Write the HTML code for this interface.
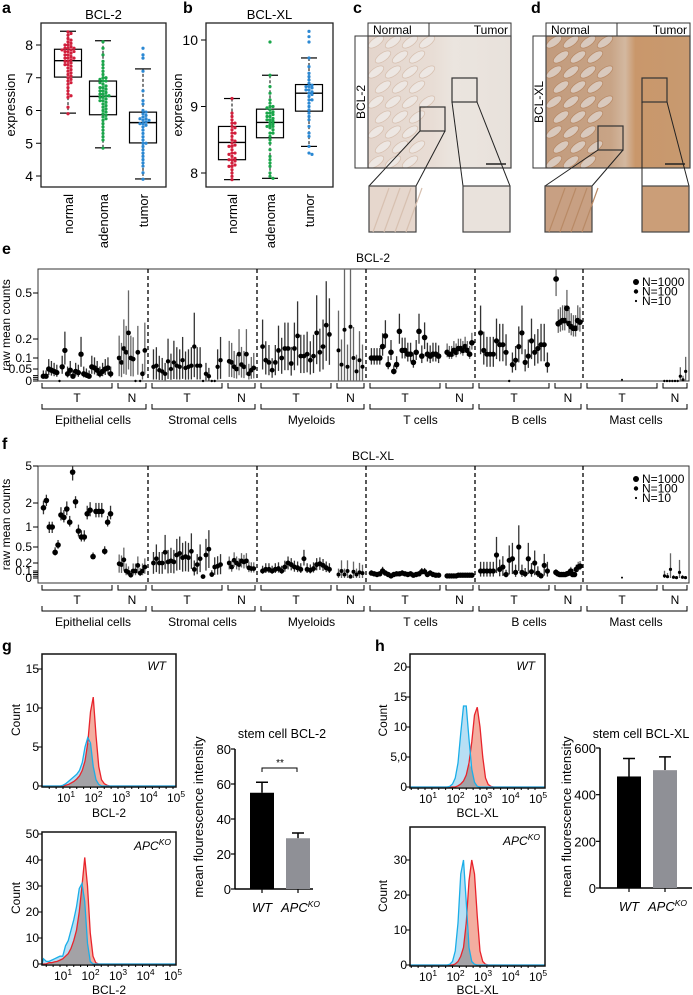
<!DOCTYPE html>
<html><head><meta charset="utf-8"><title>BCL-2 / BCL-XL figure</title>
<style>
html,body{margin:0;padding:0;background:#fff;}
svg{display:block;font-family:"Liberation Sans",Arial,sans-serif;}
</style></head>
<body>
<svg id="fig" width="693" height="995" viewBox="0 0 693 995" xmlns="http://www.w3.org/2000/svg">
<defs>
<clipPath id="clipC"><rect x="368" y="36" width="143" height="132"/></clipPath>
<clipPath id="clipD"><rect x="546" y="36" width="144" height="132"/></clipPath>
<clipPath id="clipE"><rect x="38" y="269" width="651" height="114"/></clipPath>
<clipPath id="clipF"><rect x="38" y="466" width="651" height="119"/></clipPath>
<linearGradient id="gradC" x1="0" y1="0" x2="1" y2="0"><stop offset="0" stop-color="#e4d5cc"/><stop offset="0.45" stop-color="#e8ddd5"/><stop offset="0.6" stop-color="#ebe5df"/><stop offset="1" stop-color="#e8e1db"/></linearGradient>
<linearGradient id="gradD" x1="0" y1="0" x2="1" y2="0"><stop offset="0" stop-color="#c29b7d"/><stop offset="0.45" stop-color="#c8a486"/><stop offset="0.55" stop-color="#d3b8a0"/><stop offset="0.62" stop-color="#c9976b"/><stop offset="1" stop-color="#c89a70"/></linearGradient>
</defs>
<text x="2" y="13" font-size="16" font-weight="bold">a</text>
<text x="183" y="13" font-size="16" font-weight="bold">b</text>
<text x="353" y="13" font-size="16" font-weight="bold">c</text>
<text x="531" y="13" font-size="16" font-weight="bold">d</text>
<text x="2" y="254" font-size="16" font-weight="bold">e</text>
<text x="2" y="449" font-size="16" font-weight="bold">f</text>
<text x="2" y="651" font-size="16" font-weight="bold">g</text>
<text x="375" y="651" font-size="16" font-weight="bold">h</text>
</svg>
<script>
// ---------- data: panels a/b ----------
const aNormal=[8.4,8.35,8.3,8.2,8.15,8.1,8.05,8.0,7.95,7.9,7.9,7.85,7.85,7.8,7.8,7.75,7.7,7.7,7.65,7.6,7.6,7.55,7.5,7.5,7.45,7.4,7.35,7.3,7.25,7.2,7.15,7.1,7.05,7.0,6.95,6.9,6.85,6.8,6.7,6.6,6.5,6.45,6.4,6.1,5.9,7.8,7.6,7.4,7.9,8.0];
const aAdenoma=[8.1,7.9,7.7,7.5,7.4,7.3,7.2,7.1,7.0,6.95,6.9,6.85,6.8,6.75,6.7,6.65,6.6,6.55,6.5,6.5,6.45,6.45,6.4,6.4,6.35,6.3,6.25,6.2,6.15,6.1,6.05,6.0,5.95,5.9,5.85,5.8,5.7,5.6,5.5,5.4,5.3,5.2,5.1,4.85,6.6,6.3,6.7,7.0,5.75,6.9];
const aTumor=[7.9,7.7,7.6,7.2,6.6,6.3,6.2,6.0,5.95,5.9,5.85,5.8,5.75,5.7,5.7,5.65,5.6,5.55,5.5,5.4,5.3,5.2,5.1,5.0,4.9,4.8,4.6,4.5,4.4,4.3,4.1,3.9,5.75,5.6,5.0,4.7];
const aBoxStats=[[5.92,7.02,7.52,7.87,8.42],[4.86,5.87,6.43,6.9,8.13],[3.91,5.01,5.63,5.95,7.27]];
const bNormal=[9.12,8.9,8.85,8.8,8.75,8.7,8.68,8.65,8.6,8.55,8.5,8.48,8.45,8.42,8.4,8.35,8.3,8.28,8.25,8.22,8.2,8.18,8.15,8.12,8.1,8.05,8.0,7.95,7.9,8.3,8.2,8.1,8.6,8.75,8.4];
const bAdenoma=[9.97,9.47,9.3,9.2,9.1,9.05,9.0,8.98,8.95,8.92,8.9,8.88,8.85,8.82,8.8,8.78,8.76,8.74,8.72,8.7,8.68,8.65,8.6,8.55,8.5,8.45,8.35,8.25,8.2,8.15,8.1,8.0,7.95,7.92,8.9,8.8,8.7,9.0,8.85,8.6];
const bTumor=[10.13,10.05,9.97,9.73,9.6,9.5,9.45,9.4,9.35,9.32,9.3,9.28,9.25,9.22,9.2,9.18,9.15,9.1,9.05,9.0,8.95,8.9,8.85,8.8,8.7,8.6,8.55,8.4,8.3,8.28,9.25,9.3,9.1];
const bBoxStats=[[7.9,8.2,8.46,8.7,9.12],[7.92,8.53,8.76,8.96,9.47],[8.4,8.93,9.2,9.33,9.73]];
const abCategories=['normal','adenoma','tumor'];
const aTicks=[4,5,6,7,8];
const bTicks=[8,9,10];

// ---------- data: panels e/f ----------
const cellGroups=['Epithelial cells','Stromal cells','Myeloids','T cells','B cells','Mast cells'];
const subLabels=['T','N'];
const eValues=[
[0.02,0.02,0.05,0.045,0.04,0.035,0,0.06,0.14,0.03,0.045,0.02,0.04,0.035,0.12,0.03,0.025,0.02,0.06,0.055,0.045,0.03,0.04,0.05,0.055,0.03],
[0.1,0.08,0.15,0.13,0.24,0.1,0.095,0,0.13,0,0.03,0.14],
[0.06,0.065,0.045,0.04,0.03,0.085,0.05,0.08,0.065,0.06,0.09,0.055,0.06,0.065,0.16,0.065,0.065,0,0.03,0.02,0,0,0.06,0.09],
[0.085,0.08,0.06,0.05,0.12,0.07,0.06,0.12,0.03,0.045,0.055],
[0.16,0.09,0.08,0.045,0.08,0.14,0.1,0.15,0.15,0.075,0.15,0.22,0.11,0.11,0.12,0.09,0.11,0.24,0.13,0.16,0.29,0.23],
[0.14,0.07,0.26,0.06,0.28,0.1,0.04,0.09,0.06],
[0.1,0.1,0.1,0.1,0.16,0.22,0.07,0.13,0.04,0.07,0.25,0.14,0.14,0.12,0.12,0.08,0.13,0.25,0.11,0.21,0.12,0.11,0.12,0.12,0.11],
[0.13,0.12,0.12,0.14,0.13,0.15,0.15,0.14,0.16,0.14,0.12,0.18],
[0.24,0.14,0.12,0.12,0.12,0.19,0.17,0.17,0.13,0,0.07,0.09,0.16,0.24,0.08,0.11,0.19,0.13,0.15,0.17,0.17,0.07],
[0.6,0.3,0.31,0.32,0.32,0.4,0.3,0.28,0.27,0.27,0.32,0.31],
[0.005],
[0,0,0,0,0,0,0.02,0.005,0.04]
];
const eErr=[0.5,0.8,0.9,0.8,0.7,1.2,0.3,0.2,0.5,0.2,0,1.0];
const eSize=[2.7,2.4,2.2,2.4,2.4,2.0,2.8,2.8,2.6,2.9,1,1.6];
const eTickVals=[0,0.05,0.1,0.2,0.5];
const eTickLabels=['0','0.05','0.1','0.2','0.5'];
const fValues=[
[1.8,2.2,1.0,1.0,0.4,0.55,1.5,1.4,1.75,1.2,4.5,2.1,0.9,0.75,0.75,1.55,1.7,0.32,1.65,1.65,1.65,0.42,1.2,1.55],
[0.19,0.18,0.26,0.1,0.08,0.04,0.1,0.1,0.17,0.07,0.1,0.15],
[0.2,0.28,0.2,0.2,0.4,0.22,0.24,0.22,0.35,0.38,0.3,0.32,0.3,0.42,0.12,0.18,0.28,0.02,0.35,0.46,0.05,0.15,0.16,0.18],
[0.2,0.15,0.25,0.2,0.18,0.24,0.22,0.24,0.14,0.13,0.13],
[0.1,0.12,0.12,0.1,0.12,0.13,0.1,0.15,0.2,0.18,0.15,0.14,0.12,0.28,0.12,0.11,0.13,0.18,0.19,0.17,0.14,0.12],
[0.05,0.1,0.05,0.1,0.02,0.09,0.05,0.08,0.07],
[0.07,0.06,0.05,0.06,0.1,0.07,0.05,0.03,0.05,0.06,0.06,0.07,0.06,0.05,0.06,0.04,0.05,0.06,0.09,0.09,0.05,0.07,0.05,0.04,0.04],
[0.03,0.03,0.03,0.03,0.03,0.04,0.04,0.04,0.04,0.04,0.04,0.04],
[0.1,0.1,0.1,0.1,0.1,0.35,0.12,0.15,0.05,0.25,0.28,0.08,0.5,0.08,0.06,0.28,0.09,0.2,0.07,0.03,0.17,0.1],
[0.08,0.06,0.05,0.05,0.05,0.05,0.06,0.07,0.1,0.05,0.05,0.12,0.15,0.16],
[0.005],
[0.03,0.02,0.12,0.01,0.005,0.08,0.01,0.005]
];
const fErr=[0.15,0.6,0.7,0.4,0.4,1.0,0.3,0.1,0.8,0.3,0,1.5];
const fSize=[2.8,2.4,2.4,2.4,2.5,2.0,2.7,2.7,2.6,2.8,1,1.6];
const fTickVals=[0,0.1,0.2,0.5,1,2,5];
const fTickLabels=['0','0.1','0.2','0.5','1','2','5'];

// ---------- data: histograms g/h ----------
const gLogs=[0.4,0.5,0.6,0.7,0.8,0.9,1.0,1.1,1.2,1.3,1.4,1.5,1.6,1.7,1.8,1.9,2.0,2.1,2.2,2.3,2.4,2.5,2.6,2.7,2.8];
const gWtRed=[0,0,0,0,0,0,0,0.1,0.2,0.4,0.6,0.9,1.3,2.0,3.2,5.5,9.5,11.4,6.5,2.5,0.8,0.3,0.1,0,0];
const gWtBlue=[0,0,0,0,0,0,0.1,0.3,0.6,0.9,1.2,1.5,2.0,3.0,5.0,6.2,5.5,2.5,0.8,0.2,0,0,0,0,0];
const gApcRed=[0,0,0.5,0.5,0.8,1,1.5,2,3,4,6,9,13,20,30,41,30,12,3,0.5,0,0,0,0,0];
const gApcBlue=[2,1,1,1.5,2,2.5,3,3,7,9,13,17,22,29,31,24,8,1,0,0,0,0,0,0,0];
const hLogs=[1.5,1.6,1.7,1.8,1.9,2.0,2.1,2.2,2.3,2.4,2.5,2.6,2.7,2.8,2.9,3.0,3.1,3.2,3.3,3.4,3.5,3.6,3.7,3.8];
const hWtBlue=[0,0,0,0,0.1,0.5,1.5,4,9,13.5,13.5,8,3,0.8,0.1,0,0,0,0,0,0,0,0,0];
const hWtRed=[0,0,0,0,0,0,0,0.2,0.5,1,2,4,7.5,12,13.3,10,5,1.5,0.4,0.1,0,0,0,0];
const hApcBlue=[0,0,0,0,0.2,1,4,12,26,30,18,5,1,0.2,0,0,0,0,0,0,0,0,0,0];
const hApcRed=[0,0,0,0,0,0,0.3,1,2.5,5,12,24,30,26,14,4,1,0.2,0,0,0,0,0,0];
const decadeTicks=[1,2,3,4,5];
const gWtYTicks=[0,5,10,15];
const gApcYTicks=[0,10,20,30,40,50];
const hWtYTicks=[0,5,10,15,20];
const hWtYLabels=['0','5,0','10','15','20'];
const hApcYTicks=[0,10,20,30];

// ---------- data: bar charts ----------
const barCategories=['WT','APC'];
const gBarMeans=[55,29];
const gBarErrs=[61,32];
const gBarTicks=[0,20,40,60,80];
const hBarMeans=[478,505];
const hBarErrs=[555,562];
const hBarTicks=[0,200,400,600];

// ---------- helpers ----------
const svg=document.getElementById('fig');
const NS='http://www.w3.org/2000/svg';
function mk(tag,attrs,parent){const e=document.createElementNS(NS,tag);for(const k in attrs)e.setAttribute(k,attrs[k]);(parent||svg).appendChild(e);return e;}
function txt(x,y,s,attrs,parent){const t=mk('text',Object.assign({x:x,y:y},attrs||{}),parent);t.textContent=s;return t;}
function sup(x,y,base,exp,attrs){const t=mk('text',Object.assign({x:x,y:y},attrs||{}));const a=document.createElementNS(NS,'tspan');a.textContent=base;t.appendChild(a);const b=document.createElementNS(NS,'tspan');b.setAttribute('dy','-5');b.setAttribute('font-size','8.5');b.textContent=exp;t.appendChild(b);return t;}
function interp(v,vs,ps){if(v<=vs[0])return ps[0];for(let i=0;i<vs.length-1;i++){if(v<=vs[i+1])return ps[i]+(v-vs[i])/(vs[i+1]-vs[i])*(ps[i+1]-ps[i]);}const n=vs.length-1;return ps[n]+(v-vs[n])/(vs[n]-vs[n-1])*(ps[n]-ps[n-1]);}

// ---------- panels a/b ----------
function boxPanel(cfg){
  const g=mk('g',{});
  
  
  const t=txt((cfg.x0+cfg.x1)/2,19,cfg.title,{'font-size':13,'text-anchor':'middle'},g);
  
  
  cfg.ticks.forEach(v=>{
    const y=cfg.Y(v);
    const l=mk('line',{x1:cfg.x0-5,x2:cfg.x0,y1:y,y2:y,stroke:'#000','stroke-width':1},g);
    
    
    const tl=txt(cfg.x0-8,y+5,String(v),{'font-size':14,'text-anchor':'end'},g);
    
    
  });
  const yl=txt(0,0,'expression',{'font-size':13,'text-anchor':'middle',transform:'translate('+cfg.ylx+',105) rotate(-90)'},g);
  
  
  cfg.groups.forEach((vals,i)=>{
    const cx=cfg.centers[i];const st=cfg.stats[i];const Y=cfg.Y;
    const w1=mk('line',{x1:cx,x2:cx,y1:Y(st[4]),y2:Y(st[3]),stroke:'#000','stroke-dasharray':'3,2'},g);
    
    
    const w2=mk('line',{x1:cx,x2:cx,y1:Y(st[1]),y2:Y(st[0]),stroke:'#000','stroke-dasharray':'3,2'},g);
    
    
    [st[0],st[4]].forEach(v=>{
      const c=mk('line',{x1:cx-8,x2:cx+8,y1:Y(v),y2:Y(v),stroke:'#000','stroke-width':1.2},g);
      
      
    });
    const r=mk('rect',{x:cx-13.5,y:Y(st[3]),width:27,height:Y(st[1])-Y(st[3]),fill:'none',stroke:'#000','stroke-width':1.2},g);
    
    
    const m=mk('line',{x1:cx-13.5,x2:cx+13.5,y1:Y(st[2]),y2:Y(st[2]),stroke:'#000','stroke-width':1.4},g);
    
    
    const placed=[];
    vals.slice().sort((a,b)=>b-a).forEach(v=>{
      const y=Y(v);let px=cx;
      const offs=[0,3,-3,6,-6,9,-9,12,-12,15,-15];
      for(const o of offs){const x=cx+o;if(!placed.some(p=>Math.abs(p[0]-x)<2.8&&Math.abs(p[1]-y)<2.6)){px=x;break;}}
      placed.push([px,y]);
      const d=mk('circle',{cx:px,cy:y,r:1.6,fill:cfg.colors[i]},g);
      
      
    });
    const xl=txt(0,0,abCategories[i],{'font-size':13,'text-anchor':'end',transform:'translate('+(cx+5)+','+(cfg.y1+7)+') rotate(-90)'},g);
    
    
  });
  const fr=mk('rect',{x:cfg.x0,y:cfg.y0,width:cfg.x1-cfg.x0,height:cfg.y1-cfg.y0,fill:'none',stroke:'#222','stroke-width':1.3},g);
  
  
}
boxPanel({name:'panel-a-bcl2-boxplot',title:'BCL-2',x0:41,x1:166,y0:23,y1:187,Y:v=>45+(8-v)*32.75,ticks:aTicks,ylx:15,centers:[68,103,143],groups:[aNormal,aAdenoma,aTumor],stats:aBoxStats,colors:['#d21f3c','#1aa64a','#2b88d3']});
boxPanel({name:'panel-b-bclxl-boxplot',title:'BCL-XL',x0:206,x1:333,y0:23,y1:187,Y:v=>40+(10-v)*66.5,ticks:bTicks,ylx:182,centers:[232,270,309],groups:[bNormal,bAdenoma,bTumor],stats:bBoxStats,colors:['#d21f3c','#1aa64a','#2b88d3']});

// ---------- panels c/d (IHC) ----------
function ihc(cfg){
  const g=mk('g',{});
  
  
  const h1=mk('rect',{x:cfg.x0,y:23,width:cfg.xm-cfg.x0,height:13,fill:'#fff',stroke:'#333','stroke-width':1},g);
  
  
  const h2=mk('rect',{x:cfg.xm,y:23,width:cfg.x1-cfg.xm,height:13,fill:'#fff',stroke:'#333','stroke-width':1},g);
  
  
  const t1=txt(cfg.x0+5,34,'Normal',{'font-size':12},g);
  
  
  const t2=txt(cfg.x1-3,34,'Tumor',{'font-size':12,'text-anchor':'end'},g);
  
  
  const s=mk('rect',{x:cfg.x0-13,y:36,width:13,height:132,fill:'#fff',stroke:'#333'},g);
  
  
  const sl=txt(0,0,cfg.stain,{'font-size':12,'text-anchor':'middle',transform:'translate('+(cfg.x0-3)+',102) rotate(-90)'},g);
  
  
  const im=mk('rect',{x:cfg.x0,y:36,width:cfg.x1-cfg.x0,height:132,fill:cfg.grad},g);
  
  
  const cg=mk('g',{'clip-path':cfg.clip},g);
  for(let r=0;r<9;r++){for(let c=0;c<4;c++){
    const x=cfg.x0+8+c*17+(r%2)*7;const y=42+r*15;
    if(x>cfg.x0+66-r*1.5)continue;
    const e=mk('ellipse',{cx:x,cy:y,rx:9,ry:4,fill:cfg.crypt,stroke:cfg.edge,'stroke-width':0.8,transform:'rotate(-35 '+x+' '+y+')'},cg);
    
    
  }}
  const sb=mk('line',{x1:cfg.x1-25,x2:cfg.x1-5,y1:164,y2:164,stroke:'#222','stroke-width':1.5},g);
  
  
  const fr=mk('rect',{x:cfg.x0,y:36,width:cfg.x1-cfg.x0,height:132,fill:'none',stroke:'#444','stroke-width':1.2},g);
  
  
  [[cfg.nb,cfg.in1],[cfg.tb,cfg.in2]].forEach((p,k)=>{
    const b=p[0],ins=p[1];
    const zr=mk('rect',{x:b[0],y:b[1],width:25,height:24,fill:'none',stroke:'#333','stroke-width':1.2},g);
    
    
    const l1=mk('line',{x1:b[0],y1:b[1]+24,x2:ins,y2:186,stroke:'#222'},g);
    
    
    const l2=mk('line',{x1:b[0]+25,y1:b[1]+24,x2:ins+47,y2:186,stroke:'#222'},g);
    
    
    const ir=mk('rect',{x:ins,y:186,width:47,height:46,fill:k?cfg.tumorIn:cfg.normIn,stroke:'#444','stroke-width':1.2},g);
    
    
    if(!k){for(let j=0;j<4;j++){
      const il=mk('line',{x1:ins+4+j*11,y1:232,x2:ins+20+j*11,y2:188,stroke:cfg.edge,'stroke-width':1.2},g);
      
      
    }}
  });
}
ihc({name:'panel-c-bcl2-ihc',x0:368,xm:429,x1:511,stain:'BCL-2',grad:'url(#gradC)',clip:'url(#clipC)',crypt:'#ede7e3',edge:'#d7c0b0',nb:[420,107],tb:[452,78],in1:369,in2:463,normIn:'#e6d7cd',tumorIn:'#e9e2dc'});
ihc({name:'panel-d-bclxl-ihc',x0:546,xm:617,x1:690,stain:'BCL-XL',grad:'url(#gradD)',clip:'url(#clipD)',crypt:'#d9c9bd',edge:'#b98a66',nb:[598,126],tb:[642,78],in1:545,in2:642,normIn:'#c8a083',tumorIn:'#cb9e78'});

// ---------- panels e/f ----------
const groupStarts=[38,148,257,366,475,583,689];
function dotPanel(cfg){
  const g=mk('g',{});
  
  
  const Y=v=>interp(v,cfg.scaleVals,cfg.scalePx);
  const t=txt(373,cfg.titleY,cfg.title,{'font-size':12,'text-anchor':'middle'},g);
  
  
  const fr=mk('rect',{x:38,y:cfg.top,width:651,height:cfg.bottom-cfg.top,fill:'none',stroke:'#333','stroke-width':1},g);
  
  
  for(let i=1;i<6;i++){
    const d=mk('line',{x1:groupStarts[i],x2:groupStarts[i],y1:cfg.top,y2:cfg.bottom,stroke:'#000','stroke-dasharray':'4,3','stroke-width':1.3},g);
    
    
  }
  cfg.tickVals.forEach((v,i)=>{
    const y=Y(v);
    const l=mk('line',{x1:33,x2:38,y1:y,y2:y,stroke:'#000'},g);
    
    
    const tl=txt(32,y+4,cfg.tickLabels[i],{'font-size':12,'text-anchor':'end'},g);
    
    
  });
  [1,2,3].forEach(k=>{
    const y=Y(0)-k*1.8;
    const l=mk('line',{x1:33,x2:38,y1:y,y2:y,stroke:'#000'},g);
    
    
  });
  const yl=txt(0,0,'raw mean counts',{'font-size':12,'text-anchor':'middle',transform:'translate(10,'+((cfg.top+cfg.bottom)/2)+') rotate(-90)'},g);
  
  
  const pg=mk('g',{'clip-path':cfg.clip},g);
  for(let gi=0;gi<6;gi++){
    const gs=groupStarts[gi],ge=groupStarts[gi+1];
    const ranges=[[gs+4,gs+74],[gs+80,ge-2]];
    ranges.forEach((rg,si)=>{
      const idx=gi*2+si;const vals=cfg.values[idx];const n=vals.length;
      vals.forEach((v,i)=>{
        const x=rg[0]+(i+0.5)*(rg[1]-rg[0])/n;
        const k=cfg.err[idx];
        if(k>0&&v>0){
          const e=mk('line',{x1:x,x2:x,y1:Y(v*(1+k*1.4)+0.01),y2:Y(Math.max(0,v*(1-k))),stroke:si?'#666':'#333','stroke-width':1.3},pg);
          
          
        }
        const c=mk('circle',{cx:x,cy:Y(v),r:v===0?1.2:cfg.size[idx],fill:'#000'},pg);
        
        
      });
      const by=cfg.bottom+2;
      const b=mk('path',{d:'M'+rg[0]+' '+by+'V'+(by+5)+'H'+rg[1]+'V'+by,fill:'none',stroke:'#000'},g);
      
      
      const sl=txt((rg[0]+rg[1])/2,by+19,subLabels[si],{'font-size':12,'text-anchor':'middle'},g);
      
      
    });
    const by2=cfg.bottom+23;
    const b2=mk('path',{d:'M'+(gs+4)+' '+by2+'V'+(by2+5)+'H'+(ge-2)+'V'+by2,fill:'none',stroke:'#000'},g);
    
    
    const gl=txt((gs+ge)/2,by2+20,cellGroups[gi],{'font-size':12,'text-anchor':'middle'},g);
    
    
  }
  [['N=1000',3],['N=100',2.2],['N=10',1.1]].forEach((it,i)=>{
    const y=cfg.top+13+i*9.5;
    const c=mk('circle',{cx:636,cy:y,r:it[1],fill:'#000'},g);
    
    
    const lt=txt(642,y+4,it[0],{'font-size':12},g);
    
    
  });
}
dotPanel({name:'panel-e-bcl2-dotplot',title:'BCL-2',titleY:262,top:269,bottom:381,clip:'url(#clipE)',scaleVals:[0,0.05,0.1,0.2,0.5,0.7],scalePx:[381,369,358,339,293,265],tickVals:eTickVals,tickLabels:eTickLabels,values:eValues,err:eErr,size:eSize});
dotPanel({name:'panel-f-bclxl-dotplot',title:'BCL-XL',titleY:460,top:466,bottom:583,clip:'url(#clipF)',scaleVals:[0,0.1,0.2,0.5,1,2,5],scalePx:[578,571,563,547,527,503,466],tickVals:fTickVals,tickLabels:fTickLabels,values:fValues,err:fErr,size:fSize});

// ---------- histograms ----------
function hist(cfg){
  const g=mk('g',{});
  
  
  const X=l=>cfg.x10+(l-1)*27.5;
  const Y=c=>cfg.y0c-c*cfg.ppc;
  const x0=cfg.bx0,x1=cfg.bx1;
  function area(arr){let d='M'+x0+' '+cfg.y0c;d+='L'+X(cfg.logs[0])+' '+Y(arr[0]);cfg.logs.forEach((l,i)=>{d+='L'+X(l)+' '+Y(arr[i]);});d+='L'+X(cfg.logs[cfg.logs.length-1])+' '+cfg.y0c+'L'+x1+' '+cfg.y0c;return d;}
  const mn=cfg.red.map((v,i)=>Math.min(v,cfg.blue[i]));
  const ra=mk('path',{d:area(cfg.red)+'Z',fill:'#f2a596','fill-opacity':0.9},g);
  
  
  const ba=mk('path',{d:area(cfg.blue)+'Z',fill:'#b0dcf3','fill-opacity':0.9},g);
  
  
  const oa=mk('path',{d:area(mn)+'Z',fill:'#a3a2a6'},g);
  
  
  const rl=mk('path',{d:area(cfg.red),fill:'none',stroke:'#e8242c','stroke-width':1.3},g);
  
  
  const bl=mk('path',{d:area(cfg.blue),fill:'none',stroke:'#1aaee8','stroke-width':1.3},g);
  
  
  const fr=mk('rect',{x:x0,y:cfg.by0,width:x1-x0,height:cfg.y0c+1-cfg.by0,fill:'none',stroke:'#111','stroke-width':1.5},g);
  
  
  cfg.yTicks.forEach((v,i)=>{
    const y=Y(v);
    const l=mk('line',{x1:x0-4,x2:x0,y1:y,y2:y,stroke:'#000'},g);
    
    
    const tl=txt(x0-3,y+4,cfg.yLabels[i],{'font-size':12,'text-anchor':'end'},g);
    
    
  });
  for(let l=0.5;l<=5.2;l+=0.25){
    const x=X(l);if(x<x0||x>x1)continue;
    const m=mk('line',{x1:x,x2:x,y1:cfg.y0c+1,y2:cfg.y0c+3,stroke:'#000'},g);
    
    
  }
  decadeTicks.forEach(k=>{
    const tl=sup(X(k)-6,cfg.y0c+16,'10',String(k),{'font-size':12,'text-anchor':'start'});
    
    
  });
  const xl=txt((x0+x1)/2,cfg.xlY,cfg.xlabel,{'font-size':12,'text-anchor':'middle'},g);
  
  
  const yl=txt(0,0,'Count',{'font-size':12,'text-anchor':'middle',transform:'translate('+cfg.ylX+','+((cfg.by0+cfg.y0c)/2)+') rotate(-90)'},g);
  
  
  let cl;
  if(cfg.cond==='WT'){cl=txt(x1-10,cfg.by0+16,'WT',{'font-size':12,'font-style':'italic','text-anchor':'end'},g);}
  else{cl=sup(x1-42,cfg.by0+18,'APC','KO',{'font-size':12,'font-style':'italic','text-anchor':'start'});}
  
  
}
hist({name:'panel-g-wt-histogram',bx0:42,bx1:176,by0:654,y0c:786,ppc:7.8,x10:63,logs:gLogs,red:gWtRed,blue:gWtBlue,yTicks:gWtYTicks,yLabels:gWtYTicks.map(String),xlabel:'BCL-2',xlY:817,ylX:20,cond:'WT'});
hist({name:'panel-g-apcko-histogram',bx0:42,bx1:176,by0:832,y0c:964,ppc:2.6,x10:60,logs:gLogs,red:gApcRed,blue:gApcBlue,yTicks:gApcYTicks,yLabels:gApcYTicks.map(String),xlabel:'BCL-2',xlY:994,ylX:20,cond:'APC'});
hist({name:'panel-h-wt-histogram',bx0:410,bx1:545,by0:654,y0c:787,ppc:6.0,x10:425,logs:hLogs,red:hWtRed,blue:hWtBlue,yTicks:hWtYTicks,yLabels:hWtYLabels,xlabel:'BCL-XL',xlY:817,ylX:387,cond:'WT'});
hist({name:'panel-h-apcko-histogram',bx0:410,bx1:545,by0:827,y0c:965,ppc:3.5,x10:425,logs:hLogs,red:hApcRed,blue:hApcBlue,yTicks:hApcYTicks,yLabels:hApcYTicks.map(String),xlabel:'BCL-XL',xlY:994,ylX:387,cond:'APC'});

// ---------- bar charts ----------
function bars(cfg){
  const g=mk('g',{});
  
  
  const Y=v=>cfg.y0-v*(cfg.y0-cfg.yTop)/cfg.vmax;
  const t=txt(cfg.titleX,738,cfg.title,{'font-size':12.5,'text-anchor':'middle'},g);
  
  
  const ya=mk('line',{x1:cfg.ax,x2:cfg.ax,y1:cfg.yTop,y2:cfg.y0,stroke:'#000','stroke-width':1.5},g);
  
  
  const xa=mk('line',{x1:cfg.ax,x2:cfg.axEnd,y1:cfg.y0,y2:cfg.y0,stroke:'#000','stroke-width':1.5},g);
  
  
  cfg.ticks.forEach(v=>{
    const y=Y(v);
    const l=mk('line',{x1:cfg.ax-4,x2:cfg.ax,y1:y,y2:y,stroke:'#000','stroke-width':1.2},g);
    
    
    const tl=txt(cfg.ax-4,y+5,String(v),{'font-size':13,'text-anchor':'end'},g);
    
    
  });
  const yl=txt(0,0,cfg.ylabel,{'font-size':13,'text-anchor':'middle',transform:'translate('+cfg.ylX+',817) rotate(-90)'},g);
  
  
  cfg.means.forEach((m,i)=>{
    const bx=cfg.barX[i];const cx=bx+12;
    const e=mk('path',{d:'M'+cx+' '+Y(m)+'V'+Y(cfg.errs[i])+'M'+(cx-6)+' '+Y(cfg.errs[i])+'H'+(cx+6),stroke:'#000','stroke-width':1.5,fill:'none'},g);
    
    
    const r=mk('rect',{x:bx,y:Y(m),width:24,height:cfg.y0-Y(m),fill:i?'#8f9096':'#000'},g);
    
    
    const tk=mk('line',{x1:cx,x2:cx,y1:cfg.y0,y2:cfg.y0+4,stroke:'#000','stroke-width':1.2},g);
    
    
    let lb;
    if(i===0){lb=txt(cx,cfg.y0+23,'WT',{'font-size':13,'font-style':'italic','text-anchor':'middle'},g);}
    else{lb=sup(cx-17,cfg.y0+23,'APC','KO',{'font-size':13,'font-style':'italic','text-anchor':'start'});}
    
    
  });
  if(cfg.sig){
    const s=mk('path',{d:'M262 772V768H297V772',fill:'none',stroke:'#000'},g);
    
    
    const st=txt(280,766,'**',{'font-size':10,'text-anchor':'middle'},g);
    
    
  }
}
bars({name:'panel-g-bar-chart',title:'stem cell BCL-2',titleX:282,ax:235,axEnd:313,y0:889,yTop:749,vmax:80,ticks:gBarTicks,means:gBarMeans,errs:gBarErrs,barX:[250,286],ylabel:'mean flourescence intensity',ylX:203,sig:true});
bars({name:'panel-h-bar-chart',title:'stem cell BCL-XL',titleX:641,ax:600,axEnd:692,y0:888,yTop:748,vmax:600,ticks:hBarTicks,means:hBarMeans,errs:hBarErrs,barX:[617,653],ylabel:'mean fluorescence intensity',ylX:571,sig:false});
</script>
</body></html>
